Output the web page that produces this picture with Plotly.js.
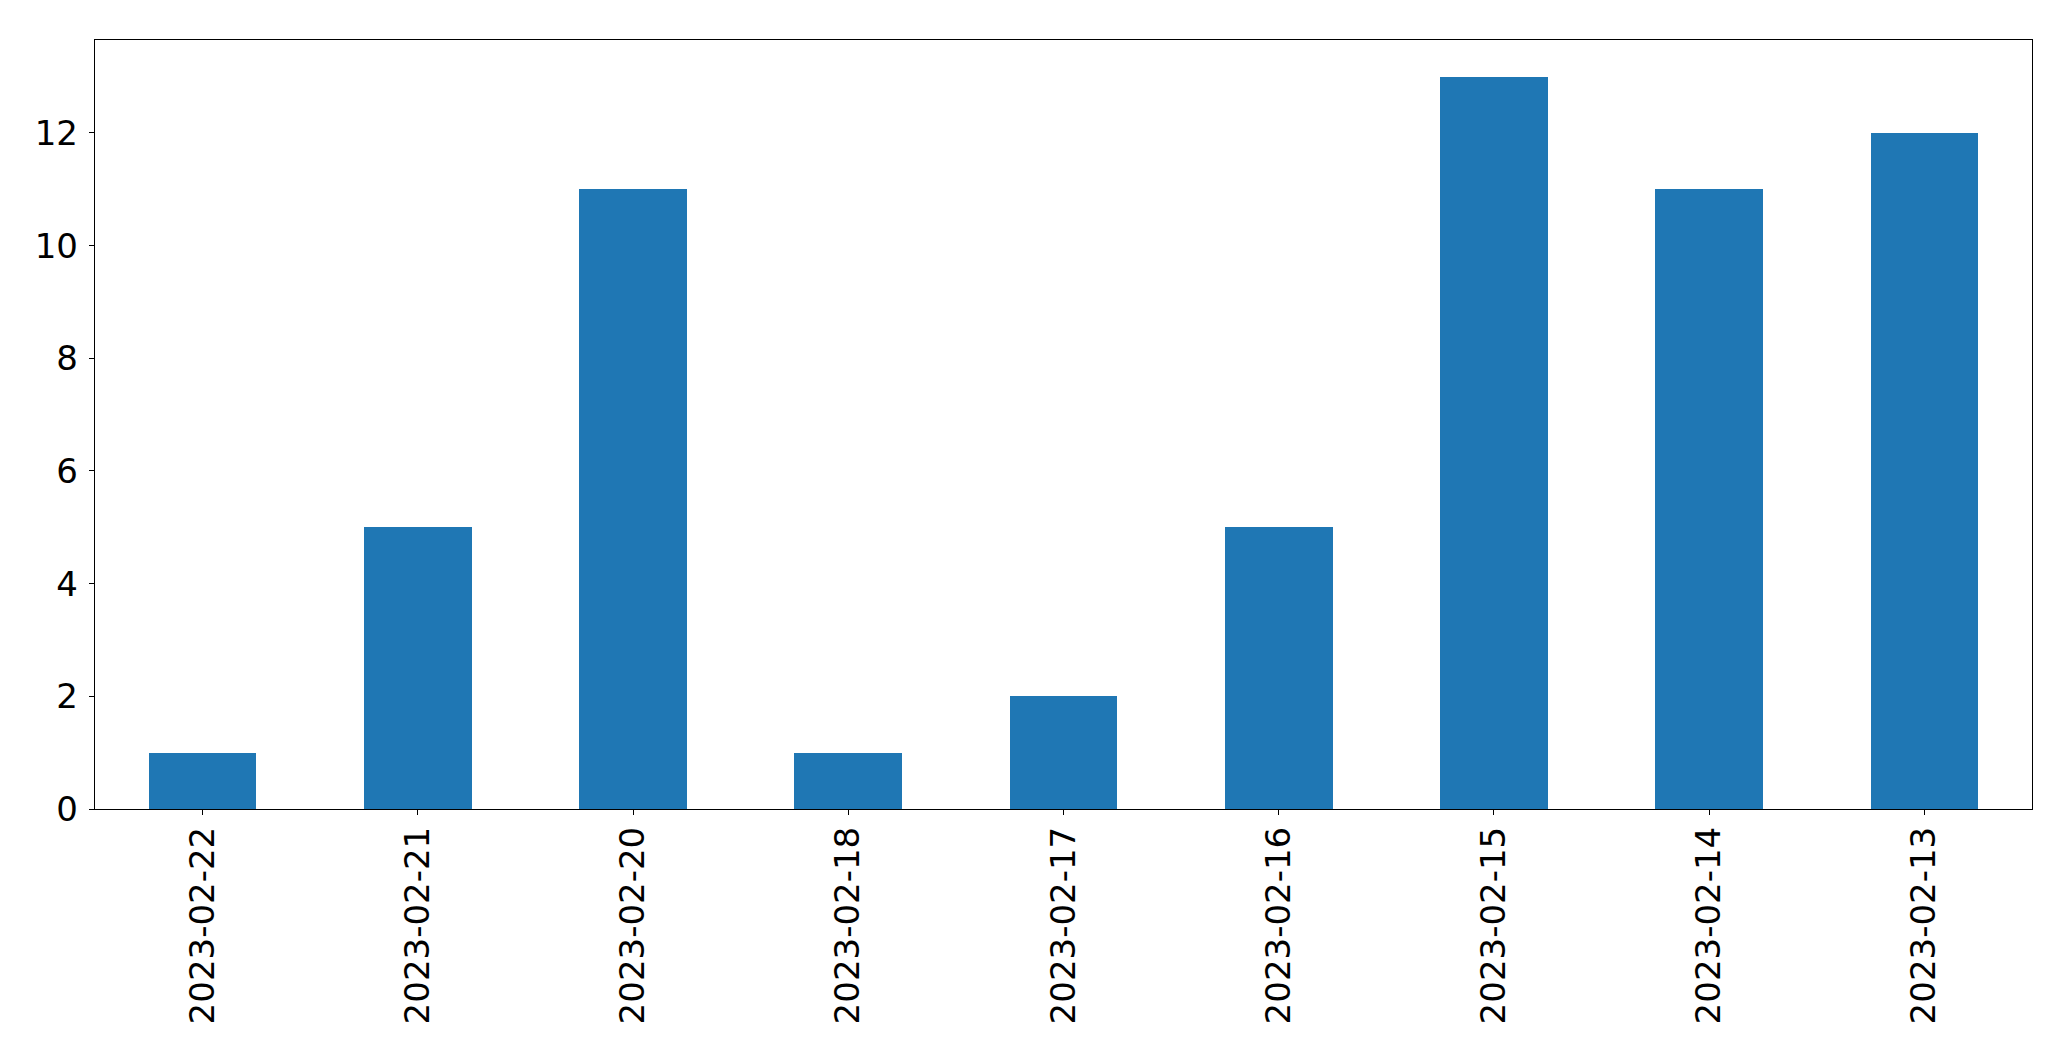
<!DOCTYPE html>
<html>
<head>
<meta charset="utf-8">
<script src="https://cdn.plot.ly/plotly-3.0.1.min.js"></script>
<style>html,body{margin:0;padding:0;background:#fff;}#chart{width:2071px;height:1061px;}</style>
</head>
<body>
<div id="chart"></div>
<script>
const categories = ["2023-02-22","2023-02-21","2023-02-20","2023-02-18","2023-02-17","2023-02-16","2023-02-15","2023-02-14","2023-02-13"];
const values = [1,5,11,1,2,5,13,11,12];
const yTicks = [0,2,4,6,8,10,12];

const font = {family: "DejaVu Sans", size: 34, color: "#000"};
Plotly.newPlot("chart", [{
  type: "bar",
  x: categories,
  y: values,
  width: 0.5,
  marker: {color: "#1f77b4", line: {width: 0}},
  hoverinfo: "skip"
}], {
  width: 2071, height: 1061,
  margin: {l: 94.5, r: 39, t: 39.5, b: 252, pad: 0},
  paper_bgcolor: "#fff", plot_bgcolor: "#fff",
  showlegend: false,
  bargap: 0,
  xaxis: {
    type: "category",
    range: [-0.5, 8.5],
    tickangle: -90,
    tickfont: font,
    ticks: "outside", ticklen: 5, tickwidth: 1, tickcolor: "#000",
    showline: true, linecolor: "#000", linewidth: 1.2, mirror: true,
    showgrid: false, zeroline: false,
    ticklabelstandoff: -2
  },
  yaxis: {
    range: [0, 13.65],
    tickvals: yTicks,
    ticktext: yTicks.map(String),
    tickfont: font,
    ticks: "outside", ticklen: 5, tickwidth: 1, tickcolor: "#000",
    showline: true, linecolor: "#000", linewidth: 1.2, mirror: true,
    showgrid: false, zeroline: false,
    ticklabelstandoff: 4
  }
}, {displayModeBar: false, staticPlot: true});
</script>
</body>
</html>
